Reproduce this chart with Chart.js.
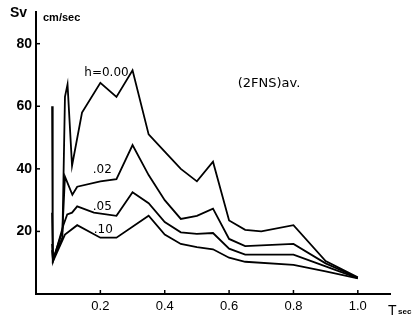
<!DOCTYPE html>
<html>
<head>
<meta charset="utf-8">
<script src="https://cdn.jsdelivr.net/npm/chart.js@4/dist/chart.umd.min.js"></script>
<style>
  html, body { margin: 0; padding: 0; background: #fff; }
  #wrap { width: 412px; height: 320px; }
</style>
</head>
<body>
<div id="wrap"><canvas id="chart" width="412" height="320"></canvas></div>
<script>
// Периоды (T, сек) и спектры скоростей Sv (см/сек) для каждого затухания h
const t00  = [0.05, 0.052, 0.082, 0.09, 0.098, 0.112, 0.143, 0.2, 0.25, 0.3, 0.35, 0.4, 0.45, 0.5, 0.55, 0.6, 0.65, 0.7, 0.8, 0.9, 1.0];
const sv00 = [60, 11, 18, 63, 67, 41, 58, 67.5, 63, 71.5, 51, 45.5, 40, 36, 42.3, 23.5, 20.5, 20, 22, 10.5, 5.3];

const t02  = [0.05, 0.053, 0.082, 0.09, 0.113, 0.128, 0.2, 0.25, 0.3, 0.35, 0.4, 0.45, 0.5, 0.55, 0.6, 0.65, 0.8, 0.9, 1.0];
const sv02 = [26, 11, 20, 37.5, 31.7, 34.3, 36, 36.7, 47.6, 38, 30, 24, 25, 27.3, 17.6, 15.3, 16, 9.8, 5.2];

const t05  = [0.05, 0.053, 0.085, 0.097, 0.112, 0.128, 0.18, 0.25, 0.3, 0.35, 0.4, 0.45, 0.5, 0.55, 0.6, 0.65, 0.8, 0.9, 1.0];
const sv05 = [16, 10.5, 22, 25.4, 26, 28, 26, 25, 32.5, 29, 23, 19.7, 19.2, 19.5, 14.5, 12.6, 12.6, 8.8, 5.1];

const t10  = [0.05, 0.053, 0.09, 0.128, 0.2, 0.25, 0.35, 0.4, 0.45, 0.5, 0.55, 0.6, 0.65, 0.8, 0.9, 1.0];
const sv10 = [14, 10.5, 19, 22, 18, 18, 25, 19, 16, 15, 14.3, 11.6, 10.3, 9.3, 7.2, 5];

// Подписи кривых (в координатах данных)
const curveLabels = ['h=0.00', '.02', '.05', '.10'];
const labelT  = [0.219, 0.206, 0.206, 0.209];
const labelSv = [70.6, 39.7, 27.8, 20.6];

const xTicks = [0.2, 0.4, 0.6, 0.8, 1.0];
const yTicks = [20, 40, 60, 80];

function toPoints(ts, vs) {
  return ts.map((t, i) => ({ x: t, y: vs[i] }));
}

function lineSet(ts, vs) {
  return {
    data: toPoints(ts, vs),
    borderColor: '#000',
    borderWidth: 1.8,
    pointRadius: 0,
    tension: 0,
    fill: false
  };
}

// Внутренние засечки и текстовые подписи
const decorPlugin = {
  id: 'decor',
  afterDraw(chart) {
    const ctx = chart.ctx;
    const xs = chart.scales.x;
    const ys = chart.scales.y;
    const area = chart.chartArea;
    ctx.save();
    ctx.strokeStyle = '#000';
    ctx.lineWidth = 1.5;
    xTicks.forEach(v => {
      const px = xs.getPixelForValue(v);
      ctx.beginPath();
      ctx.moveTo(px, area.bottom);
      ctx.lineTo(px, area.bottom - 4);
      ctx.stroke();
    });
    yTicks.forEach(v => {
      const py = ys.getPixelForValue(v);
      ctx.beginPath();
      ctx.moveTo(area.left, py);
      ctx.lineTo(area.left + 4, py);
      ctx.stroke();
    });

    ctx.fillStyle = '#000';
    ctx.textAlign = 'center';
    ctx.textBaseline = 'middle';
    ctx.font = '12px "DejaVu Sans"';
    curveLabels.forEach((txt, i) => {
      ctx.fillText(txt, xs.getPixelForValue(labelT[i]), ys.getPixelForValue(labelSv[i]));
    });

    ctx.font = '13px "DejaVu Sans"';
    ctx.fillText('(2FNS)av.', xs.getPixelForValue(0.724), ys.getPixelForValue(67.2));

    ctx.textAlign = 'left';
    ctx.font = 'bold 14px "Liberation Sans"';
    ctx.fillText('Sv', 10, 13);
    ctx.font = 'bold 11px "Liberation Sans"';
    ctx.fillText('cm/sec', 43, 18);
    ctx.font = '14px "Liberation Sans"';
    ctx.fillText('T', 388, 311);
    ctx.font = 'bold 8px "Liberation Sans"';
    ctx.fillText('sec', 398, 312);
    ctx.restore();
  }
};

new Chart(document.getElementById('chart'), {
  type: 'line',
  data: {
    datasets: [
      lineSet(t00, sv00),
      lineSet(t02, sv02),
      lineSet(t05, sv05),
      lineSet(t10, sv10)
    ]
  },
  options: {
    responsive: false,
    devicePixelRatio: 1,
    animation: false,
    layout: { padding: { top: 5, right: 22, left: 0, bottom: 0 } },
    plugins: {
      legend: { display: false },
      tooltip: { enabled: false }
    },
    scales: {
      x: {
        type: 'linear',
        min: 0,
        max: 1.1,
        afterBuildTicks: (scale) => { scale.ticks = xTicks.map(v => ({ value: v })); },
        afterFit: (scale) => { scale.height = 26; },
        grid: { drawOnChartArea: false, drawTicks: false },
        border: { color: '#000', width: 2 },
        ticks: {
          color: '#000',
          padding: 5,
          font: { family: 'Liberation Sans', size: 13 },
          callback: (v) => v.toFixed(1)
        }
      },
      y: {
        type: 'linear',
        min: 0,
        max: 90,
        afterBuildTicks: (scale) => { scale.ticks = yTicks.map(v => ({ value: v })); },
        afterFit: (scale) => { scale.width = 36; },
        grid: { drawOnChartArea: false, drawTicks: false },
        border: { color: '#000', width: 2 },
        ticks: {
          color: '#000',
          padding: 4,
          font: { family: 'Liberation Sans', size: 14, weight: 'bold' }
        }
      }
    }
  },
  plugins: [decorPlugin]
});
</script>
</body>
</html>
